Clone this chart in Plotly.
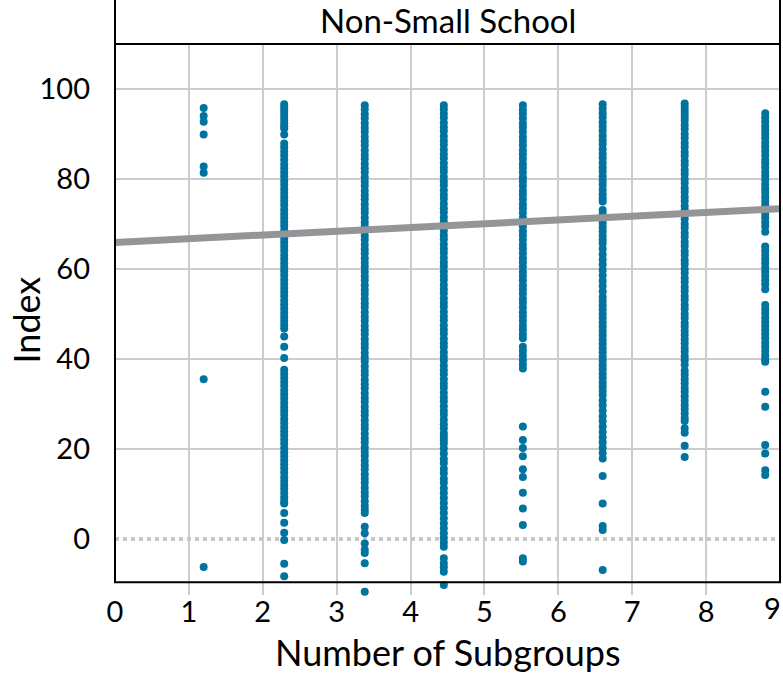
import plotly.graph_objects as go

# x positions of the eight subgroup columns (as drawn on the axis)
GROUP_X = [1.2, 2.29, 3.38, 4.45, 5.52, 6.6, 7.71, 8.8]

IDX_G1 = [95.8, 94.0, 92.7, 89.9, 82.8, 81.4, 35.5, -6.2]

IDX_G2 = [96.6, 95.9, 95.2, 94.5, 93.8, 93.1, 92.4, 91.7, 91.2, 89.9,
          87.9, 87.0, 86.1, 85.2, 84.3, 83.3, 82.4, 81.5, 80.6, 79.6, 78.7, 77.8,
          76.9, 76.0, 75.1, 74.2, 73.2, 72.3, 71.4, 70.5, 69.6, 68.6, 67.7, 66.8,
          65.9, 65.0, 64.1, 63.1, 62.2, 61.3, 60.4, 59.5, 58.6, 57.6, 56.7, 55.8,
          54.9, 54.0, 53.0, 52.1, 51.2, 50.3, 49.4, 48.5, 47.6, 46.8,
          45.0, 42.7, 40.2,
          37.6, 36.7, 35.8, 34.9, 34.0, 33.0, 32.1, 31.2, 30.3, 29.4, 28.5, 27.6,
          26.6, 25.7, 24.8, 23.9, 23.0, 22.1, 21.2, 20.2, 19.3, 18.4, 17.5, 16.6,
          15.7, 14.8, 13.8, 12.9, 12.0, 11.1, 10.2, 9.3, 8.4, 7.9,
          5.8, 3.6, 1.4, -0.2, -5.5, -8.3]

IDX_G3 = [96.4, 95.5, 94.4, 93.5, 92.4, 91.4, 90.5, 89.4, 88.4, 87.5, 86.4, 85.4,
          84.5, 83.4, 82.4, 81.5, 80.4, 79.4, 78.5, 77.4, 76.4, 75.5, 74.4, 73.4,
          72.5, 71.4, 70.4, 69.5, 68.4, 67.4, 66.5, 65.4, 64.4, 63.5, 62.4, 61.4,
          60.5, 59.4, 58.4, 57.5, 56.4, 55.4, 54.5, 53.4, 52.4, 51.5, 50.4, 49.4,
          48.5, 47.4, 46.4, 45.5, 44.4, 43.4, 42.5, 41.4, 40.4, 39.5, 38.4, 37.4,
          36.5, 35.4, 34.4, 33.5, 32.4, 31.4, 30.5, 29.4, 28.4, 27.5, 26.4, 25.4,
          24.5, 23.4, 22.4, 21.5, 20.4, 19.4, 18.5, 17.4, 16.4, 15.5, 14.4, 13.4,
          12.5, 11.4, 10.4, 9.5, 8.4, 7.4, 6.5, 5.8,
          2.7, 1.3, -1.0, -2.4, -3.1, -5.4, -11.7]

IDX_G4 = [96.4, 95.5, 94.5, 93.6, 92.5, 91.5, 90.6, 89.5, 88.5, 87.6, 86.5, 85.5,
          84.6, 83.5, 82.5, 81.6, 80.5, 79.5, 78.6, 77.5, 76.5, 75.6, 74.5, 73.5,
          72.6, 71.5, 70.5, 69.6, 68.5, 67.5, 66.6, 65.5, 64.5, 63.6, 62.5, 61.5,
          60.6, 59.5, 58.5, 57.6, 56.5, 55.5, 54.6, 53.5, 52.5, 51.6, 50.5, 49.5,
          48.6, 47.5, 46.5, 45.6, 44.5, 43.5, 42.6, 41.5, 40.5, 39.6, 38.5, 37.5,
          36.6, 35.5, 34.5, 33.6, 32.5, 31.5, 30.6, 29.5, 28.5, 27.6, 26.5, 25.5,
          24.6, 23.5, 22.7, 22.0,
          21.2, 20.1, 19.0, 17.8, 16.9, 15.6, 14.6, 13.4, 12.5, 11.3, 10.2, 9.1,
          8.0, 6.9, 5.8, 4.6, 3.5, 2.4, 1.3, 0.2, -0.8, -1.7,
          -4.3, -5.4, -6.3, -7.3, -10.2]

IDX_G5 = [96.4, 95.4, 94.5, 93.5, 92.4, 91.5, 90.5, 89.4, 88.5, 87.5, 86.4, 85.5,
          84.5, 83.4, 82.5, 81.5, 80.4, 79.5, 78.5, 77.4, 76.5, 75.5, 74.4, 73.5,
          72.5, 71.4, 70.5, 69.5, 68.4, 67.5, 66.5, 65.4, 64.5, 63.5, 62.4, 61.5,
          60.5, 59.4, 58.5, 57.5, 56.4, 55.5, 54.5, 53.4, 52.5, 51.5, 50.4, 49.5,
          48.5, 47.4, 46.5, 45.5, 44.6,
          42.7, 41.8, 40.8, 39.8, 38.8, 37.9,
          25.0, 22.0, 20.2, 18.4, 15.5, 13.8, 10.3, 6.8, 3.1, -4.3, -5.0]

IDX_G6 = [96.6, 95.6, 94.6, 93.7, 92.6, 91.6, 90.7, 89.6, 88.6, 87.7, 86.6, 85.6,
          84.7, 83.6, 82.6, 81.7, 80.6, 79.6, 78.7, 77.6, 76.6, 75.7, 75.0,
          73.1, 72.2, 71.2, 70.3, 69.3, 68.4, 67.4, 66.5, 65.7,
          64.5, 63.3, 62.1, 61.0, 59.8, 58.6, 57.4, 56.2, 55.0, 53.8,
          52.9, 51.9, 51.0, 50.0, 49.1, 48.1, 47.2, 46.2, 45.3, 44.3, 43.4, 42.4,
          41.5, 40.5, 39.6, 38.6, 37.7, 36.7, 35.8, 34.8, 33.9, 32.9, 32.0,
          30.8, 29.7, 28.5, 27.3, 26.2, 25.0, 23.8, 22.6, 21.5, 20.3, 19.1, 17.9,
          14.0, 7.9, 2.9, 2.0, -6.9]

IDX_G7 = [96.8, 96.0, 95.2, 94.5, 93.8,
          93.0, 92.0, 91.1, 90.0, 89.1, 88.0, 87.1, 86.0, 85.1, 84.0, 83.1, 82.0,
          81.1, 80.0, 79.1, 78.0, 77.1, 76.0, 75.1, 74.0, 73.1, 72.0, 71.1, 70.0,
          69.1, 68.0, 67.1, 66.0, 65.1, 64.0, 63.1, 62.0, 61.1, 60.0, 59.1, 58.0,
          57.1, 56.0, 55.1, 54.0, 53.1, 52.0, 51.1, 50.0, 49.1, 48.0, 47.2,
          46.3, 45.4, 44.4, 43.5, 42.5, 41.6, 40.6, 39.7, 38.7, 37.4,
          36.5, 35.5, 34.6, 33.6, 32.7, 31.7, 30.8, 29.8, 28.9, 27.9, 26.9,
          26.2, 24.6, 23.6, 20.7, 18.2]

IDX_G8 = [94.6, 93.7, 92.8, 91.8, 90.9, 90.0, 89.1, 88.1, 87.2, 86.3, 85.3, 84.2,
          83.5, 82.6, 81.6, 80.7, 79.8, 78.8, 77.9, 77.0, 76.0, 75.1, 74.2, 73.2,
          72.3, 71.4, 70.4, 69.5, 68.3,
          65.0, 64.1, 63.1, 62.2, 61.3, 60.3, 59.4, 58.5, 57.5, 56.6, 55.5,
          52.0, 51.1, 50.2, 49.2, 48.3, 47.4, 46.4, 45.5, 44.6, 43.6, 42.7, 41.8,
          40.8, 39.9, 39.4,
          32.7, 29.4, 20.9, 19.0, 15.3, 14.2]

GROUPS = [IDX_G1, IDX_G2, IDX_G3, IDX_G4, IDX_G5, IDX_G6, IDX_G7, IDX_G8]

FIT_X = [0, 9]
FIT_Y = [65.9, 73.4]

X_TICKS = [0, 1, 2, 3, 4, 5, 6, 7, 8]
X_LAST_TICK = 9
Y_TICKS = [0, 20, 40, 60, 80, 100]

Y_FRAME_MIN = -9.6     # where the frame's bottom edge sits
Y_VIEW = [-12.45, 110]  # a bit of room below the frame for the lowest points

FONT = "Lato, 'Open Sans', sans-serif"
POINT_COLOR = "#00739F"
GRID = "#CCCCCC"

fig = go.Figure()

xs, ys = [], []
for gx, vals in zip(GROUP_X, GROUPS):
    xs.extend([gx] * len(vals))
    ys.extend(vals)

# dotted reference line at 0
fig.add_trace(go.Scatter(x=[0, 9], y=[0, 0], mode="lines",
                         line=dict(color="#C8C8C8", width=4, dash="4px,4px"),
                         hoverinfo="skip", showlegend=False))

fig.add_trace(go.Scatter(x=xs, y=ys, mode="markers",
                         marker=dict(color=POINT_COLOR, size=8, line=dict(width=0)),
                         cliponaxis=False, showlegend=False))

fig.add_trace(go.Scatter(x=FIT_X, y=FIT_Y, mode="lines",
                         line=dict(color="#939598", width=7),
                         showlegend=False))

fig.update_layout(
    width=783, height=675,
    margin=dict(l=115, r=3, t=44, b=80),
    paper_bgcolor="white", plot_bgcolor="white",
    font=dict(family=FONT, size=29, color="black"),
    xaxis=dict(range=[0, 9], tickvals=X_TICKS + [X_LAST_TICK],
               ticktext=[str(v) for v in X_TICKS] + [""],
               showgrid=True, gridcolor=GRID, gridwidth=2,
               zeroline=False, showline=False,
               ticks="", ticklabelstandoff=-3,
               tickfont=dict(family=FONT, size=29)),
    yaxis=dict(range=Y_VIEW, tickvals=Y_TICKS, ticktext=[str(v) for v in Y_TICKS],
               showgrid=True, gridcolor=GRID, gridwidth=2,
               zeroline=True, zerolinecolor="rgba(0,0,0,0)",
               showline=False, ticks="", ticklabelstandoff=24,
               tickfont=dict(family=FONT, size=29)),
    shapes=[
        # hide the grid below the frame
        dict(type="rect", xref="paper", yref="y", x0=0, x1=1,
             y0=Y_VIEW[0], y1=Y_FRAME_MIN, line=dict(width=0),
             fillcolor="white", layer="between"),
        # panel frame
        dict(type="rect", xref="paper", yref="y", x0=0, x1=1,
             y0=Y_FRAME_MIN, y1=Y_VIEW[1], line=dict(color="black", width=2),
             fillcolor="rgba(0,0,0,0)", layer="above"),
        # facet strip
        dict(type="rect", xref="paper", yref="paper", x0=0, x1=1, y0=1, y1=1.2,
             line=dict(color="black", width=2), fillcolor="white", layer="above"),
    ],
    annotations=[
        dict(text="Non-Small School", xref="paper", yref="paper", x=0.5, y=1,
             yshift=24, showarrow=False, xanchor="center", yanchor="middle",
             font=dict(family=FONT, size=33)),
        dict(text=str(X_LAST_TICK), xref="x", yref="paper", x=X_LAST_TICK, y=0,
             yshift=-12, xshift=3, showarrow=False, xanchor="right", yanchor="middle",
             font=dict(family=FONT, size=29)),
        dict(text="Number of Subgroups", xref="paper", yref="paper", x=0.5, y=0,
             yshift=-57, showarrow=False, xanchor="center", yanchor="middle",
             font=dict(family=FONT, size=36)),
        dict(text="Index", xref="paper", yref="paper", x=0, y=0.5, xshift=-90,
             yshift=-1, textangle=-90, showarrow=False, xanchor="center",
             yanchor="middle", font=dict(family=FONT, size=36)),
    ],
)

fig.write_html("out.html", config={"displayModeBar": False},
               post_script="document.body.style.margin='0';")
